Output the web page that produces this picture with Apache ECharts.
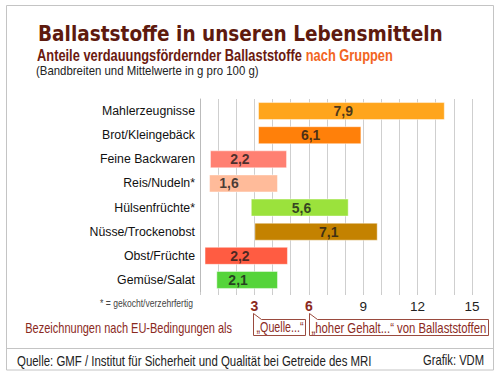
<!DOCTYPE html>
<html>
<head>
<meta charset="utf-8">
<script src="https://cdn.jsdelivr.net/npm/echarts@6/dist/echarts.min.js"></script>
<style>html,body{margin:0;padding:0;background:#fff}#c{width:500px;height:378px}</style>
</head>
<body>
<div id="c"></div>
<script>
var categories = ['Mahlerzeugnisse','Brot/Kleingebäck','Feine Backwaren','Reis/Nudeln*','Hülsenfrüchte*','Nüsse/Trockenobst','Obst/Früchte','Gemüse/Salat'];
var lowValues  = [3.2, 3.2, 0.55, 0.5, 2.8, 3.0, 0.25, 0.9];
var highValues = [13.5, 8.9, 4.8, 4.3, 8.2, 9.8, 4.85, 4.3];
var meanValues = [7.9, 6.1, 2.2, 1.6, 5.6, 7.1, 2.2, 2.1];
var barColors  = ['#FFA51C','#FF800A','#FF8072','#FFBB9A','#9BE23C','#C48200','#FF5C42','#55D43A'];
var tickLabels = [3, 6, 9, 12, 15];
var highlightTicks = [3, 6];

var FONT = "'Liberation Sans',Arial,sans-serif";
var DARKRED = '#8B2A1E';

var mc = document.createElement('canvas').getContext('2d');
function fitScale(text, font, target) {
  mc.font = font;
  return target / mc.measureText(text).width;
}
function gtext(text, x, y, font, fill, target, align) {
  return {type: 'text', x: x, y: y, scaleX: target ? fitScale(text, font, target) : 1,
    style: {text: text, font: font, fill: fill, align: align || 'left', verticalAlign: 'middle'}};
}

var chart = echarts.init(document.getElementById('c'), null, {renderer: 'svg'});

var rangeData = categories.map(function (c, i) {
  return {
    value: +(highValues[i] - lowValues[i]).toFixed(3),
    itemStyle: {color: barColors[i], borderColor: 'rgba(255,255,255,0.45)', borderWidth: 1}
  };
});
var meanData = categories.map(function (c, i) { return [meanValues[i], c]; });

var titleFont = "bold 22px 'DejaVu Sans'";
var subFont = "bold 16px " + FONT;

chart.setOption({
  animation: false,
  backgroundColor: '#fff',
  grid: {left: 200, top: 99, width: 272, height: 193, containLabel: false},
  xAxis: {
    type: 'value', min: 0, max: 15, interval: 1,
    axisLine: {show: false},
    axisTick: {show: true, length: 3, lineStyle: {color: '#ccc'}},
    splitLine: {show: true, lineStyle: {color: '#cfcfcf', width: 1}},
    axisLabel: {
      margin: 7,
      formatter: function (v) {
        if (tickLabels.indexOf(v) < 0) return '';
        return highlightTicks.indexOf(v) >= 0 ? '{h|' + v + '}' : '{n|' + v + '}';
      },
      rich: {
        h: {fontFamily: FONT, fontSize: 14, fontWeight: 'bold', color: DARKRED},
        n: {fontFamily: FONT, fontSize: 13.5, color: '#222'}
      }
    }
  },
  yAxis: {
    type: 'category', data: categories, inverse: true,
    axisLine: {show: true, lineStyle: {color: '#bbb'}},
    axisTick: {show: false},
    axisLabel: {fontFamily: FONT, fontSize: 12.3, color: '#111', margin: 5}
  },
  series: [
    {type: 'bar', stack: 'r', data: lowValues, barWidth: 18, itemStyle: {color: 'transparent'}, silent: true},
    {type: 'bar', stack: 'r', data: rangeData, barWidth: 18},
    {type: 'scatter', data: meanData, symbolSize: 1, itemStyle: {color: 'transparent'},
     label: {show: true, position: 'inside', fontFamily: FONT, fontSize: 14, fontWeight: 'bold', color: '#1a1a1a',
       formatter: function (p) { return String(p.value[0]).replace('.', ','); }}}
  ]
});

var p3 = chart.convertToPixel({xAxisIndex: 0}, 3);
var p6 = chart.convertToPixel({xAxisIndex: 0}, 6);

function callout(x0, x1, top, bottom, tailTop, tailW) {
  return [[x0 + tailW, top], [x1, top], [x1, bottom], [x0, bottom], [x0, tailTop]];
}

var subText = 'Anteile verdauungsfördernder Ballaststoffe nach Gruppen';
chart.setOption({
  graphic: [
    {type: 'rect', shape: {x: 6.5, y: 5.5, width: 487, height: 364.5}, style: {fill: 'none', stroke: '#c4c4c4', lineWidth: 1}, z: -1},
    {type: 'line', shape: {x1: 6.5, y1: 348.5, x2: 493.5, y2: 348.5}, style: {stroke: '#c4c4c4', lineWidth: 1}},
    gtext('Ballaststoffe in unseren Lebensmitteln', 38, 33, titleFont, '#5E1A0E', 405),
    {type: 'text', x: 37, y: 55, scaleX: fitScale(subText, subFont, 356),
     style: {text: '{a|Anteile verdauungsfördernder Ballaststoffe }{b|nach Gruppen}', verticalAlign: 'middle',
       rich: {a: {font: subFont, fill: '#6B1A10'}, b: {font: subFont, fill: '#F26522'}}}},
    gtext('(Bandbreiten und Mittelwerte in g pro 100 g)', 36, 71, '13px ' + FONT, '#222', 223),
    gtext('* = gekocht/verzehrfertig', 193, 304, '10px ' + FONT, '#444', 93, 'right'),
    gtext('Bezeichnungen nach EU-Bedingungen als', 232, 329, '14px ' + FONT, DARKRED, 207, 'right'),
    {type: 'polygon', shape: {points: callout(Math.round(p3) - 1 + 0.5, 305.5, 319.5, 335.5, 313.5, 8)}, style: {fill: '#fff', stroke: '#9A4A3E', lineWidth: 1}},
    {type: 'polygon', shape: {points: callout(Math.round(p6) + 0.5, 488.5, 319.5, 335.5, 313.5, 8)}, style: {fill: '#fff', stroke: '#9A4A3E', lineWidth: 1}},
    gtext('\u201EQuelle...\u201C', 256.5, 328, '14px ' + FONT, DARKRED, 47),
    gtext('\u201Ehoher Gehalt...\u201C von Ballaststoffen', 311.5, 328, '14px ' + FONT, DARKRED, 175),
    gtext('Quelle: GMF / Institut für Sicherheit und Qualität bei Getreide des MRI', 17, 361, '14px ' + FONT, '#222', 355),
    gtext('Grafik: VDM', 484, 361, '14px ' + FONT, '#222', 61, 'right')
  ]
});
</script>
</body>
</html>
